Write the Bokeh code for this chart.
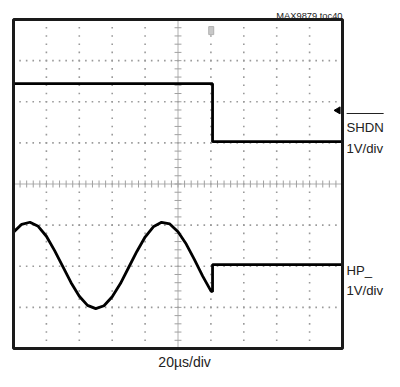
import numpy as np
from bokeh.plotting import figure
from bokeh.models import Range1d, Label
from bokeh.embed import file_html
from bokeh.resources import INLINE

# ---- data (time in microseconds, amplitude in divisions from screen centre) ----
hp_time = [0, 5, 10, 15, 20, 25, 30, 35, 40, 45, 50, 55, 60, 65, 70, 75, 80,
           85, 90, 95, 100, 105, 110, 115, 120, 121, 121, 200]
hp_div = [-1.17, -0.98, -0.93, -1.03, -1.27, -1.62, -2.01, -2.40, -2.73, -2.95,
          -3.03, -2.96, -2.74, -2.42, -2.03, -1.64, -1.29, -1.04, -0.93, -0.97,
          -1.16, -1.46, -1.84, -2.24, -2.60, -2.62, -1.96, -1.96]
shdn_time = [0, 121, 121, 200]
shdn_div = [2.44, 2.44, 1.03, 1.03]

x_divs = [0, 20, 40, 60, 80, 100, 120, 140, 160, 180, 200]
y_divs = [-4, -3, -2, -1, 0, 1, 2, 3, 4]

FONT = "Liberation Sans"

W, H = 384, 371
p = figure(width=W, height=H, output_backend="svg", toolbar_location=None,
           x_range=Range1d(-7.903, 225.53), y_range=Range1d(-4.559, 4.462),
           min_border=0, outline_line_color=None)
p.axis.visible = False
p.grid.visible = False
p.background_fill_color = "white"
p.border_fill_color = "white"

# dotted graticule
gx, gy = [], []
for xv in x_divs[1:-1]:
    if xv == 100:
        continue
    ys = np.arange(-4, 4.001, 0.2)
    gx += [xv] * len(ys)
    gy += list(ys)
for yv in y_divs[1:-1]:
    if yv == 0:
        continue
    xs = np.arange(0, 200.001, 4)
    gx += list(xs)
    gy += [yv] * len(xs)
p.scatter(gx, gy, marker="square", size=1.6, color="#9a9a9a", line_color=None)

# centre cross with ticks
p.segment(x0=[0, 100], y0=[0, -4], x1=[200, 100], y1=[0, 4], line_color="#b0b0b0", line_width=1)
tx = np.arange(4, 200, 4)
p.segment(x0=tx, y0=[-0.085] * len(tx), x1=tx, y1=[0.085] * len(tx), line_color="#a0a0a0", line_width=1)
ty = np.arange(-3.8, 4, 0.2)
p.segment(x0=[97.9] * len(ty), y0=ty, x1=[102.1] * len(ty), y1=ty, line_color="#a0a0a0", line_width=1)

# traces
p.line(shdn_time, shdn_div, line_color="black", line_width=2.8)
p.line(hp_time, hp_div, line_color="black", line_width=2.8)

# markers
p.rect([120.2], [3.73], width=5, height=8, width_units="screen", height_units="screen",
       fill_color="#c8c8c8", line_color="#b0b0b0")
p.scatter([197.3], [1.79], marker="triangle", size=7, angle=np.pi / 2, color="black")

# frame box
p.rect([100], [0], width=200, height=8, fill_color=None, line_color="#1a1a1a", line_width=3)

# texts
def lab(x, y, t, size, align="left"):
    p.add_layout(Label(x=x, y=y, text=t, text_font=FONT, text_font_size=size,
                       text_align=align, text_baseline="alphabetic", text_color="#222222"))

lab(200, 4.097, "MAX9879 toc40", "9.3px", "right")
lab(202.4, 1.374, "SHDN", "13.2px")
p.segment(x0=[202.5], y0=[1.714], x1=[225.0], y1=[1.714], line_color="#222222", line_width=1)
lab(202.4, 0.863, "1V/div", "13.2px")
lab(202.4, -2.10, "HP_", "13.2px")
lab(202.4, -2.59, "1V/div", "13.2px")
lab(104, -4.316, "20µs/div", "14px", "center")

open("out.html", "w").write(file_html(p, INLINE))
